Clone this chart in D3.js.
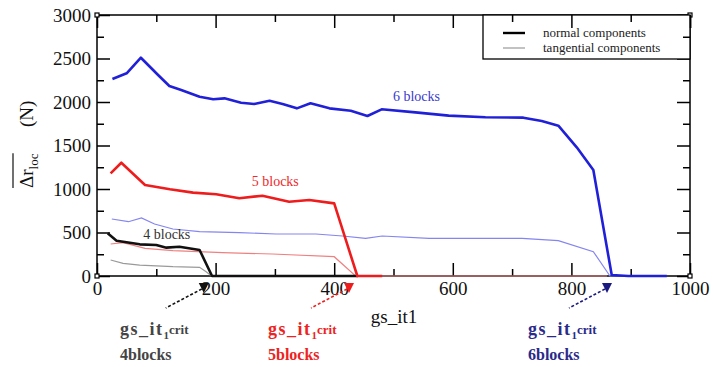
<!DOCTYPE html>
<html><head><meta charset="utf-8">
<script src="https://cdn.jsdelivr.net/npm/d3@7"></script>
<style>
html,body{margin:0;padding:0;background:#fff;}
svg{display:block;}
</style></head>
<body><svg id="c" width="713" height="367"></svg>
<script>
// ---- data ----
const xTicks = [0, 200, 400, 600, 800, 1000];
const yTicks = [0, 500, 1000, 1500, 2000, 2500, 3000];
const xMinor = [100, 300, 500, 700, 900];
const yMinor = [250, 750, 1250, 1750, 2250, 2750];

const blueNx = [26,50,74,103,122,142,173,196,215,243,265,291,313,337,360,392,428,456,480,537,593,655,719,750,778,809,837,868,896,961];
const blueNy = [2264,2330,2509,2310,2184,2138,2061,2031,2042,1992,1977,2015,1977,1927,1985,1927,1900,1839,1916,1881,1843,1824,1820,1782,1728,1479,1218,11,0,0];
const blueTx = [25,53,75,97,128,173,240,302,369,414,453,481,560,717,778,837,865,961];
const blueTy = [655,624,667,598,540,510,498,483,483,460,433,460,433,433,406,280,0,0];
const redNx = [23,41,81,123,162,201,240,279,324,358,400,439,481];
const redNy = [1180,1302,1046,997,958,939,893,923,854,874,835,0,0];
const redTx = [23,44,81,128,212,296,400,436,860];
const redTy = [368,383,318,291,268,253,222,0,0];
const blackNx = [18,33,72,100,117,139,173,194,440];
const blackNy = [490,406,364,356,326,337,299,0,0];
const blackTx = [23,44,72,128,173,184,193,440];
const blackTy = [184,146,126,107,100,49,0,0];

const seriesNames = ["4 blocks", "5 blocks", "6 blocks"];
const seriesLabelPos = [[78, 425], [261, 1034], [499, 2011]]; // data coords of labels
const critX = [180, 425, 860];
const critNames = ["4blocks", "5blocks", "6blocks"];
const legendNames = ["normal components", "tangential components"];

// ---- layout ----
const FONT = '"Liberation Serif"';
const svg = d3.select("#c");
const L = 97, R = 690, T = 15, B = 276;
const x = d3.scaleLinear([0, 1000], [L, R]);
const y = d3.scaleLinear([0, 3000], [B, T]);

const zip = (a, b) => a.map((v, i) => [v, b[i]]);
const line = d3.line().x(d => x(d[0])).y(d => y(d[1]));
const txt = (sel) => sel.append("text").style("font-family", FONT);

// frame
svg.append("rect").attr("x", L).attr("y", T).attr("width", R - L).attr("height", B - T)
  .attr("fill", "none").attr("stroke", "#000").attr("stroke-width", 1.5);

function addAxis(gen, tr, vals, size, labels) {
  const g = svg.append("g").attr("transform", tr)
    .call(gen.tickValues(vals).tickSize(size).tickFormat(labels ? d3.format("d") : () => ""));
  g.attr("font-family", null).attr("font-size", null);
  g.select(".domain").remove();
  g.selectAll(".tick line").attr("stroke", "#000").attr("stroke-width", 1.5);
  g.selectAll("text").style("font-family", FONT).attr("font-size", 19).attr("fill", "#111");
  return g;
}
const MJ = 13, MN = 7;
const gb = addAxis(d3.axisBottom(x), `translate(0,${B})`, xTicks, -MJ, true);
gb.selectAll("text").attr("y", 6).attr("dy", "0.71em");
addAxis(d3.axisBottom(x), `translate(0,${B})`, xMinor, -MN, false);
addAxis(d3.axisTop(x), `translate(0,${T})`, xTicks, -MJ, false);
addAxis(d3.axisTop(x), `translate(0,${T})`, xMinor, -MN, false);
const gl = addAxis(d3.axisLeft(y), `translate(${L},0)`, yTicks, -MJ, true);
gl.selectAll("text").attr("x", -6);
addAxis(d3.axisLeft(y), `translate(${L},0)`, yMinor, -MN, false);
addAxis(d3.axisRight(y), `translate(${R},0)`, yTicks, -MJ, false);
addAxis(d3.axisRight(y), `translate(${R},0)`, yMinor, -MN, false);

// series
const thin = [
  [blackTx, blackTy, "#9a9a9a"],
  [redTx, redTy, "#f08080"],
  [blueTx, blueTy, "#8585f0"]
];
const thick = [
  [blackNx, blackNy, "#111111"],
  [redNx, redNy, "#ee1c1c"],
  [blueNx, blueNy, "#2020d8"]
];
thin.forEach(([xs, ys, c]) => svg.append("path").datum(zip(xs, ys)).attr("d", line)
  .attr("fill", "none").attr("stroke", c).attr("stroke-width", 1.2));
thick.forEach(([xs, ys, c]) => svg.append("path").datum(zip(xs, ys)).attr("d", line)
  .attr("fill", "none").attr("stroke", c).attr("stroke-width", 2.6).attr("stroke-linejoin", "round"));

// corner squares
[[L, T], [L, B], [R, T], [R, B]].forEach(([cx, cy]) => {
  svg.append("rect").attr("x", cx - 2).attr("y", cy - 2).attr("width", 4).attr("height", 4)
    .attr("fill", "#fff").attr("stroke", "#000").attr("stroke-width", 1.2);
});

// series labels
const labelColors = ["#333333", "#ee2a2a", "#3a3ad0"];
seriesNames.forEach((n, i) => {
  txt(svg).attr("x", x(seriesLabelPos[i][0])).attr("y", y(seriesLabelPos[i][1]))
    .attr("font-size", 14).attr("fill", labelColors[i]).text(n);
});

// legend
svg.append("rect").attr("x", 483).attr("y", T).attr("width", R - 483).attr("height", 59 - T)
  .attr("fill", "#fff").attr("stroke", "#000").attr("stroke-width", 1.3);
addAxis(d3.axisTop(x), `translate(0,${T})`, xTicks.filter(v => x(v) > 483), -MJ, false);
addAxis(d3.axisTop(x), `translate(0,${T})`, xMinor.filter(v => x(v) > 483), -MN, false);
addAxis(d3.axisRight(y), `translate(${R},0)`, yMinor.filter(v => y(v) < 59), -MN, false);
const legColors = ["#000", "#999"], legW = [2.4, 1.2];
legendNames.forEach((n, i) => {
  const ly = 33 + i * 15;
  svg.append("line").attr("x1", 503).attr("x2", 525).attr("y1", ly).attr("y2", ly)
    .attr("stroke", legColors[i]).attr("stroke-width", legW[i]);
  txt(svg).attr("x", 543).attr("y", ly + 4).attr("font-size", 13).attr("fill", "#222").text(n);
});

// axis titles
txt(svg).attr("x", 394).attr("y", 323).attr("text-anchor", "middle")
  .attr("font-size", 19).attr("fill", "#111").text("gs_it1");

const yl = svg.append("g").attr("transform", "translate(33,145) rotate(-90)");
const ylt = txt(yl).attr("x", -43).attr("y", 0).attr("font-size", 19).attr("fill", "#111");
ylt.append("tspan").text("Δr");
ylt.append("tspan").attr("font-size", 13).attr("dy", 5).text("loc");
const bb = ylt.node().getBBox();
yl.append("line").attr("x1", bb.x).attr("x2", bb.x + bb.width).attr("y1", -20).attr("y2", -20)
  .attr("stroke", "#111").attr("stroke-width", 1.2);
txt(yl).attr("x", -43 + 61).attr("y", 0).attr("font-size", 19).attr("fill", "#111").text("(N)");

// critical annotations
const critColors = ["#111111", "#ee1c1c", "#1a1a80"];
const critText = ["#444444", "#ee2222", "#2a2a8a"];
const critTextX = [120, 268, 528];
critX.forEach((cx, i) => {
  const px = x(cx);
  svg.append("path").attr("d", `M${px - 5},283 L${px + 5},283 L${px},293 Z`).attr("fill", critColors[i]);
  svg.append("line").attr("x1", px - 2).attr("y1", 289).attr("x2", px - 38).attr("y2", 308)
    .attr("stroke", critColors[i]).attr("stroke-width", 1.6).attr("stroke-dasharray", "3,2");
  const t = txt(svg).attr("x", critTextX[i]).attr("y", 335).attr("font-weight", "bold")
    .attr("fill", critText[i]);
  t.append("tspan").attr("font-size", 18).attr("letter-spacing", 1.5).text("gs_it");
  t.append("tspan").attr("font-size", 11).attr("dy", 4).text("1");
  t.append("tspan").attr("font-size", 13).attr("dy", -5).text("crit");
  txt(svg).attr("x", critTextX[i]).attr("y", 360).attr("font-weight", "bold")
    .attr("font-size", 16).attr("fill", critText[i]).text(critNames[i]);
});
</script></body></html>
